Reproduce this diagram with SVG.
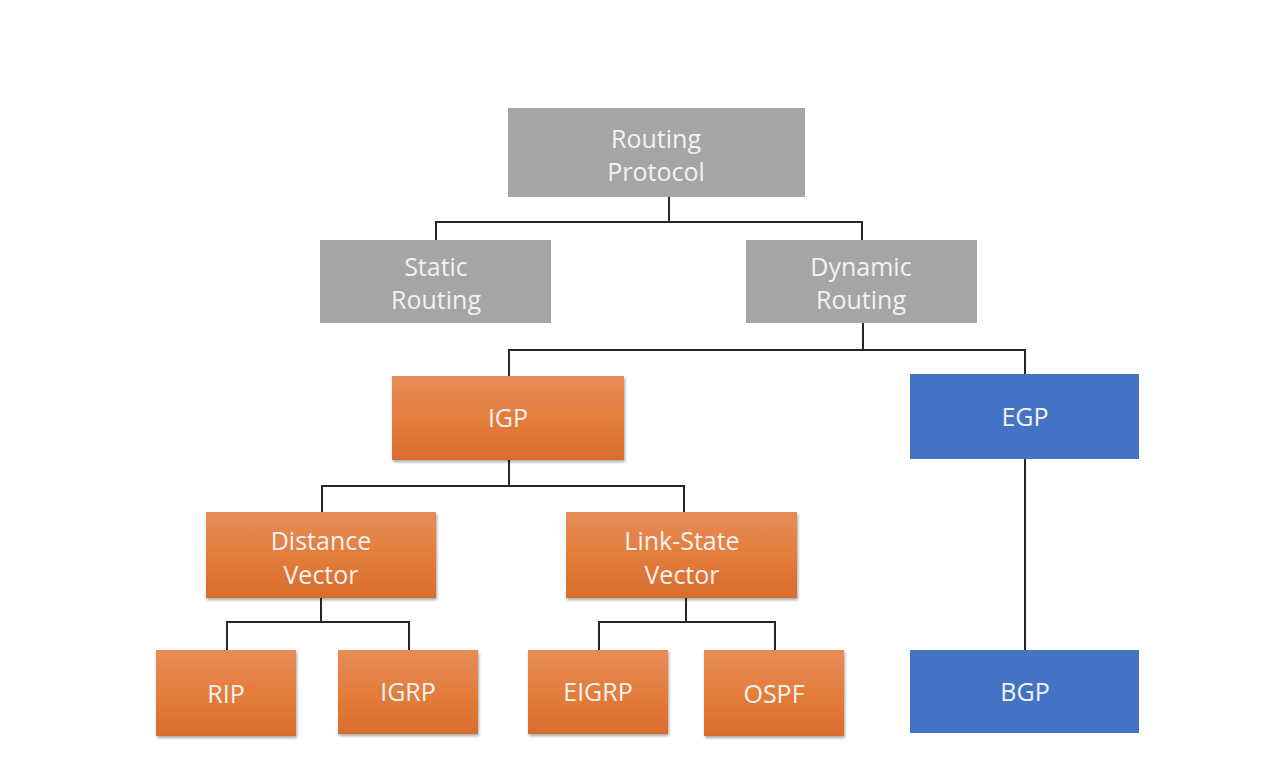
<svg xmlns="http://www.w3.org/2000/svg" width="1264" height="782" viewBox="0 0 1264 782">
<defs>
<linearGradient id="og" x1="0" y1="0" x2="0" y2="1">
<stop offset="0" stop-color="#E78C58"/>
<stop offset="0.5" stop-color="#E47D3C"/>
<stop offset="1" stop-color="#D86C2E"/>
</linearGradient>
<filter id="sh" x="-10%" y="-10%" width="125%" height="130%">
<feDropShadow dx="1" dy="2" stdDeviation="1.5" flood-color="#000" flood-opacity="0.35"/>
</filter>
</defs>
<style>
.grey{fill:#A5A5A5}
.orange{fill:url(#og);filter:url(#sh)}
.blue{fill:#4472C4}
text{font-family:"Open Sans","Noto Sans",sans-serif;font-size:25px;fill:#F2F2F2;text-anchor:middle}
.con{fill:none;stroke:#262626;stroke-width:2}
</style>
<rect width="1264" height="782" fill="#FFFFFF"/>
<g id="connectors">
<path class="con" d="M669 197V222M436 240V222H862V240"/>
<path class="con" d="M863 323V350M509 376V350H1025V374"/>
<path class="con" d="M509 460V486M322 512V486H684V512"/>
<path class="con" d="M321 598V622M227 650V622H409V650"/>
<path class="con" d="M686 598V622M599 650V622H775V650"/>
<path class="con" d="M1025 459V650"/>
</g>
<g id="routing-protocol"><rect class="grey" x="508" y="108" width="297" height="89"/><text x="656" y="148">Routing</text><text x="656" y="181">Protocol</text></g>
<g id="static-routing"><rect class="grey" x="320" y="240" width="231" height="83"/><text x="436" y="276">Static</text><text x="436" y="309">Routing</text></g>
<g id="dynamic-routing"><rect class="grey" x="746" y="240" width="231" height="83"/><text x="861" y="276">Dynamic</text><text x="861" y="309">Routing</text></g>
<g id="igp"><rect class="orange" x="392" y="376" width="232" height="84"/><text x="508" y="427">IGP</text></g>
<g id="egp"><rect class="blue" x="910" y="374" width="229" height="85"/><text x="1025" y="426">EGP</text></g>
<g id="distance-vector"><rect class="orange" x="206" y="512" width="230" height="86"/><text x="321" y="550">Distance</text><text x="321" y="584">Vector</text></g>
<g id="link-state-vector"><rect class="orange" x="566" y="512" width="231" height="86"/><text x="682" y="550">Link-State</text><text x="682" y="584">Vector</text></g>
<g id="rip"><rect class="orange" x="156" y="650" width="140" height="86"/><text x="226" y="703">RIP</text></g>
<g id="igrp"><rect class="orange" x="338" y="650" width="140" height="84"/><text x="408" y="701">IGRP</text></g>
<g id="eigrp"><rect class="orange" x="528" y="650" width="140" height="84"/><text x="598" y="701">EIGRP</text></g>
<g id="ospf"><rect class="orange" x="704" y="650" width="140" height="86"/><text x="774" y="703">OSPF</text></g>
<g id="bgp"><rect class="blue" x="910" y="650" width="229" height="83"/><text x="1025" y="701">BGP</text></g>
</svg>
